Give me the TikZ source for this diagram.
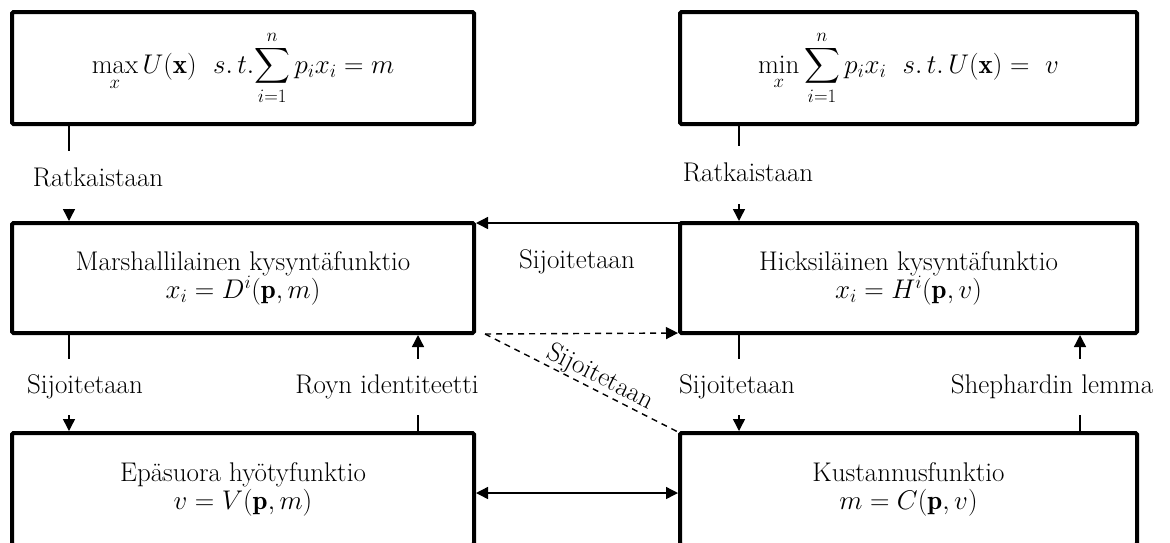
\RequirePackage{fix-cm}
\documentclass[tikz,border=0pt]{standalone}
\usepackage{amsmath}
\usepackage{fontspec}
\usetikzlibrary{arrows.meta}
\newcommand{\bigfnt}{\fontsize{27}{28}\selectfont}
\tikzset{
  box/.style={draw, line width=4pt, rounded corners=1.5pt, align=center,
    inner sep=0pt, outer sep=0pt, font=\bigfnt},
  conn/.style={line width=1.4pt},
  tip/.style={-{Triangle[length=12pt,width=12pt]}, shorten >=2pt},
  dtip/.style={{Triangle[length=12pt,width=12pt]}-{Triangle[length=12pt,width=12pt]}, shorten >=2pt, shorten <=2pt},
  dsh/.style={line width=1.4pt, dash pattern=on 6pt off 5pt},
  lab/.style={font=\bigfnt, inner xsep=0pt, text height=18pt, text depth=5pt},
}
\begin{document}
\begin{tikzpicture}[x=1pt,y=-1pt]
\useasboundingbox (0,0) rectangle (1170,542);
\clip (0,0) rectangle (1170,542);
% boxes
\node[box, minimum width=462, minimum height=112] (tl) at (243,68)
  {$\displaystyle\max_{x} U(\mathbf{x})\ \ s.\,t.\!\sum_{i=1}^{n} p_i x_i = m$};
\node[box, minimum width=457, minimum height=112] (tr) at (908.5,68)
  {$\displaystyle\min_{x} \sum_{i=1}^{n} p_i x_i\ \ s.\,t.\,U(\mathbf{x}) =\ v$};
\node[box, minimum width=462, minimum height=110] (ml) at (243,278)
  {Marshallilainen kysyntäfunktio\\ $x_i = D^i(\mathbf{p}, m)$};
\node[box, minimum width=457, minimum height=110] (mr) at (908.5,278)
  {Hicksiläinen kysyntäfunktio\\ $x_i = H^i(\mathbf{p}, v)$};
\node[box, minimum width=462, minimum height=112] (bl) at (243,489)
  {Epäsuora hyötyfunktio\\ $v = V(\mathbf{p}, m)$};
\node[box, minimum width=457, minimum height=112] (br) at (908.5,489)
  {Kustannusfunktio\\ $m = C(\mathbf{p}, v)$};
% column coordinates
\coordinate (cL) at (69,0);
\coordinate (cR) at (418,0);
\coordinate (cM) at (739,0);
\coordinate (cS) at (1080,0);
\coordinate (p) at (485,334);
% labels
\node[lab, inner ysep=17pt] (rat1) at (98,180) {Ratkaistaan};
\node[lab, inner ysep=17.5pt] (rat2) at (748,175) {Ratkaistaan};
\node[lab, inner ysep=16.5pt] (sij1) at (85,387) {Sijoitetaan};
\node[lab, inner ysep=16.5pt] (roy) at (387,387) {Royn identiteetti};
\node[lab, inner ysep=16.5pt] (sij2) at (737,387) {Sijoitetaan};
\node[lab, inner ysep=16.5pt] (she) at (1052,387) {Shephardin lemma};
\node[lab] (sij0) at (577,262) {Sijoitetaan};
% top row connectors
\draw[conn] (tl.south -| cL) -- (rat1.north -| cL);
\draw[conn,tip] (rat1.south -| cL) -- (ml.north -| cL);
\draw[conn] (tr.south -| cM) -- (rat2.north -| cM);
\draw[conn,tip] (rat2.south -| cM) -- (mr.north -| cM);
% middle horizontal
\draw[conn,tip] (mr.north west) -- (ml.north east);
\draw[dsh,tip] (p) -- (mr.south west);
\draw[dsh] (p) -- node[lab, sloped, above=1pt, pos=0.56, inner ysep=0pt] (sij3) {Sijoitetaan} (br.north west);
% lower row connectors
\draw[conn] (ml.south -| cL) -- (sij1.north -| cL);
\draw[conn,tip] (sij1.south -| cL) -- (bl.north -| cL);
\draw[conn] (bl.north -| cR) -- (roy.south -| cR);
\draw[conn,tip] (roy.north -| cR) -- (ml.south -| cR);
\draw[conn] (mr.south -| cM) -- (sij2.north -| cM);
\draw[conn,tip] (sij2.south -| cM) -- (br.north -| cM);
\draw[conn] (br.north -| cS) -- (she.south -| cS);
\draw[conn,tip] (she.north -| cS) -- (mr.south -| cS);
% bottom double arrow
\draw[conn,dtip] (bl.east |- 0,493) -- (br.west |- 0,493);
\end{tikzpicture}
\end{document}
